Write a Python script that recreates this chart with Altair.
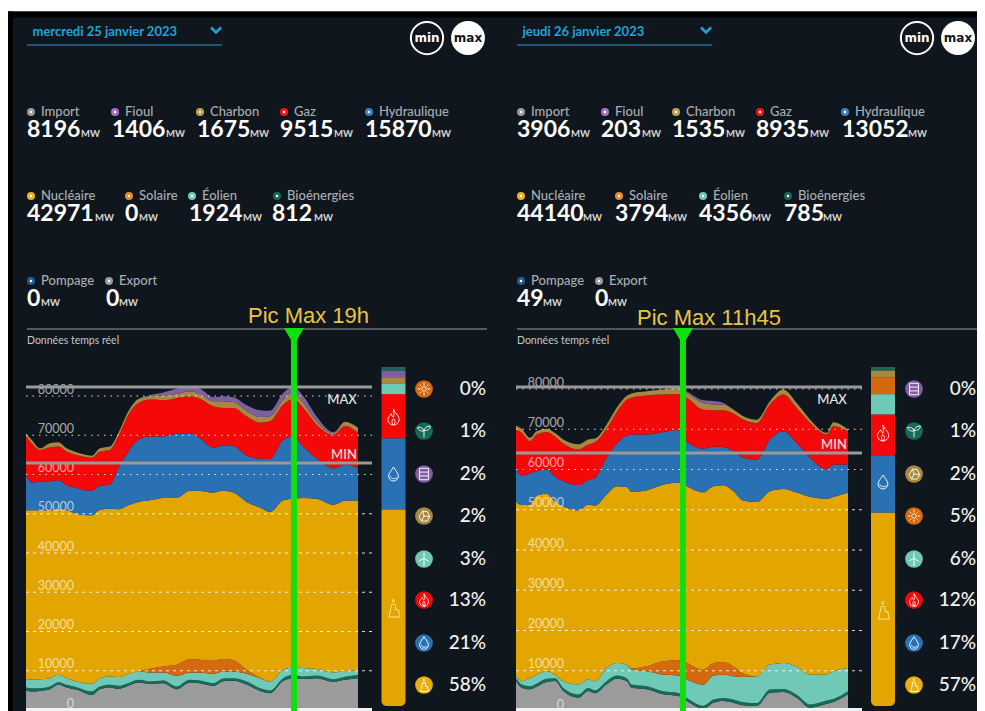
import altair as alt
import pandas as pd

# ---------- data ----------
SERIES = ["Import", "Bioénergies", "Éolien", "Solaire", "Nucléaire", "Hydraulique", "Gaz", "Charbon", "Fioul"]
COLORS = ["#9b9b9b", "#17695a", "#6fc9b6", "#d4690f", "#e3a500", "#2a71b3", "#f40808", "#a88840", "#7f5fa0"]

h_a = [0,.41,1.01,1.73,2.34,2.94,3.66,4.75,5.35,6.07,6.67,7.4,8.12,8.96,9.93,10.89,11.85,12.58,13.54,14.27,14.99,15.95,16.92,17.64,18.6,19.32,20.05,21.01,22.22,23.06,24]
import_a = [4960,4700,4870,5300,6410,5730,5130,3850,5300,5730,5390,6160,7010,6670,6840,5300,7010,6840,6160,7350,7440,6500,4870,4280,7440,8120,7870,8120,7180,7700,8100]
bio_a = [770,850,680,680,680,680,680,850,680,680,770,680,680,600,680,680,680,680,680,680,680,770,680,680,680,810,680,680,680,800,800]
eol_a = [2140,2140,2310,2140,1880,1710,1450,1970,2140,2140,2220,2390,2140,2310,2050,2740,1880,2050,2390,1800,1710,1970,2565,2310,2140,1920,2140,1620,1710,1450,1200]
sol_a = [0,0,0,0,0,0,0,0,0,0,0,0,0,940,1540,2820,3420,3250,3330,3160,2820,1030,100,0,0,0,0,0,0,0,0]
nuc_a = [43000,43180,43000,42750,42320,42750,42750,42920,42920,42750,42750,42920,43180,42920,42920,42490,42840,43000,42840,42840,42750,42750,43350,43180,43180,42970,43350,43430,42750,43350,43260]
hyd_a = [8980,7100,7270,7440,7270,6410,6580,6240,6070,6160,10430,13680,15820,16250,15650,16330,14710,13420,11460,11540,11880,11800,12480,13510,15390,15870,13080,10260,9230,9230,8290]
gaz_a = [9830,10000,8120,8640,8550,8550,8380,8460,8720,8810,8120,9400,9400,9400,9230,9150,9400,10090,10520,9580,9660,10000,9150,9580,8980,9515,9830,8550,8550,9830,8980]
cha_a = [860,860,430,1030,1110,860,680,510,860,860,860,860,1030,860,1200,1030,1280,1200,1280,1710,1540,1450,1450,1280,1280,1675,1280,860,430,1110,1280]
fio_a = [0,0,0,0,0,0,0,0,0,0,0,0,0,260,770,1280,1280,1370,1030,1280,1200,1370,1710,1400,1710,1406,1710,1280,260,0,0]

h_b = [0,.41,1.01,1.49,2.22,2.82,3.42,4.51,5.23,5.71,6.55,7.28,8,8.36,9.45,10.65,11.74,12.34,13.54,14.27,14.99,15.71,16.43,17.4,18.36,19.33,20.29,21.25,22.46,22.94,24]
import_b = [7460,5800,5390,6050,7210,7460,4970,3310,4970,4390,6630,8040,7460,5800,5390,4140,3700,2490,580,2070,2490,2070,1410,1240,4560,4720,3310,830,1820,2240,4140]
bio_b = [760,780,760,740,780,700,760,800,760,740,780,760,700,780,760,740,785,760,720,760,740,780,760,720,760,740,700,760,780,740,760]
eol_b = [660,830,2070,2240,1910,830,1660,2490,2070,2240,3310,3150,3310,3730,3730,4140,4356,4560,5220,5970,5800,5800,6300,6630,6210,6460,7040,7460,6460,6880,5800]
sol_b = [0,0,0,0,0,0,0,0,0,0,0,0,0,250,1240,3310,3794,4140,3730,3150,3150,2490,830,0,0,0,0,0,0,0,0]
nuc_b = [43080,43740,43080,44490,44080,43080,43500,43250,43500,43660,43080,43910,44160,43830,43740,43910,44140,43910,44080,43910,43910,43500,43000,43330,43080,43250,43250,44160,43660,43330,43500]
hyd_b = [8290,7370,7700,6050,6050,6210,6210,6300,6050,6880,9110,10600,12760,14330,13840,13090,13052,11180,10850,9780,9530,9940,10600,10520,12840,14330,12260,9690,7290,8040,7040]
gaz_b = [9780,10600,8040,9110,9280,9940,9360,8860,8860,8860,7210,7790,8950,9110,9690,9280,8935,10770,9690,9110,9110,9360,9530,9110,8700,9110,8700,8700,8700,9530,8290]
cha_b = [830,990,830,830,830,830,990,1240,1240,910,1080,1080,990,1080,1080,1240,1535,1240,1660,1410,1410,990,830,830,830,1240,1240,830,410,990,410]
fio_b = [0,0,0,0,0,0,0,0,0,0,0,0,0,0,0,0,203,410,660,830,410,0,0,0,0,0,0,0,0,0,0]

TICKS = [0, 10000, 20000, 30000, 40000, 50000, 60000, 70000, 80000]

head_names_a = ["Import","Fioul","Charbon","Gaz","Hydraulique","Nucléaire","Solaire","Éolien","Bioénergies","Pompage","Export"]
head_vals_a = ["8196","1406","1675","9515","15870","42971","0","1924","812","0","0"]
head_vals_b = ["3906","203","1535","8935","13052","44140","3794","4356","785","49","0"]
head_col = {"Import":"#9b9b9b","Fioul":"#a872c4","Charbon":"#c6a24e","Gaz":"#f01818","Hydraulique":"#3b80c8",
            "Nucléaire":"#eeb21a","Solaire":"#e68a2e","Éolien":"#6fc9b6","Bioénergies":"#17695a","Pompage":"#1f5f95","Export":"#9b9b9b"}

leg_a = ["Solaire","Bioénergies","Fioul","Charbon","Éolien","Gaz","Hydraulique","Nucléaire"]
pct_a = [0,1,2,2,3,13,21,58]
leg_b = ["Fioul","Bioénergies","Charbon","Solaire","Éolien","Gaz","Hydraulique","Nucléaire"]
pct_b = [0,1,2,5,6,12,17,57]

# ---------- layout helpers (reference pixels → chart pixels) ----------
FONT = "Lato"
X = lambda p: p - 8
Y = lambda p: p - 8
BG = "#10161d"
one = alt.Data(values=[{"a": 1}])
layers = []

def box(x0, x1, y0, y1, color, **kw):
    layers.append(alt.Chart(one).mark_rect(color=color, **kw).encode(
        x=alt.value(X(x0)), x2=alt.value(X(x1)), y=alt.value(Y(y0)), y2=alt.value(Y(y1))))

def hline(x0, x1, y, color, w=1.0, **kw):
    layers.append(alt.Chart(one).mark_rule(color=color, strokeWidth=w, **kw).encode(
        x=alt.value(X(x0)), x2=alt.value(X(x1)), y=alt.value(Y(y))))

def txt(rows, size, color, align="left", baseline="middle", weight="normal", font=FONT, **kw):
    df = pd.DataFrame(rows, columns=["t", "x", "y"])
    df["x"] = df["x"] - 8
    df["y"] = df["y"] - 8
    layers.append(alt.Chart(df).mark_text(fontSize=size, color=color, align=align, baseline=baseline,
                                          fontWeight=weight, font=font, **kw).encode(
        x=alt.X("x:Q", scale=None, axis=None), y=alt.Y("y:Q", scale=None, axis=None), text="t:N"))

def pts(rows, shape, size, filled=True, color="white", stroke=None, w=1.0):
    df = pd.DataFrame(rows, columns=["c", "x", "y"])
    df["x"] = df["x"] - 8
    df["y"] = df["y"] - 8
    kw = dict(shape=shape, size=size, filled=filled, opacity=1, strokeWidth=w)
    if filled:
        kw["fill"] = color
        kw["stroke"] = stroke if stroke else color
        kw["strokeOpacity"] = 1 if stroke else 0
    else:
        kw["stroke"] = color
        kw["fill"] = "transparent"
    layers.append(alt.Chart(df).mark_point(**kw).encode(
        x=alt.X("x:Q", scale=None, axis=None), y=alt.Y("y:Q", scale=None, axis=None)))

ICON = {
 "Gaz": "M0 -1 C0.2 -0.4 0.8 -0.1 0.7 0.4 C0.6 0.8 0.3 1 0 1 C-0.4 1 -0.7 0.7 -0.7 0.3 C-0.7 0 -0.4 -0.2 -0.3 -0.4 C-0.2 -0.1 -0.1 0 0 0 C0.1 -0.3 0 -0.7 0 -1 Z M0 1 C-0.3 .7 -0.2 .4 0 .2 C.2 .4 .3 .7 0 1",
 "Hydraulique": "M0 -1 C0.3 -0.5 0.7 -0.1 0.7 0.3 C0.7 0.7 0.35 1 0 1 C-0.35 1 -0.7 0.7 -0.7 0.3 C-0.7 -0.1 -0.3 -0.5 0 -1 Z M-.5 .3 C-.3 .7 .2 .8 .5 .5",
 "Nucléaire": "M-0.2 -0.4 L0.2 -0.4 L0.25 0.2 L0.55 0.2 L0.7 1 L-0.5 1 L-0.35 0.3 Z M0 -0.6 C0.15 -0.8 0 -0.9 0 -1 C-0.15 -0.85 -0.15 -0.7 0 -0.6 Z",
 "Solaire": "M.35 0 A.35 .35 0 1 1 -.35 0 A.35 .35 0 1 1 .35 0 Z M0 -1 L0 -.55 M0 1 L0 .55 M-1 0 L-.55 0 M1 0 L.55 0 M-.7 -.7 L-.4 -.4 M.7 .7 L.4 .4 M-.7 .7 L-.4 .4 M.7 -.7 L.4 -.4",
 "Bioénergies": "M0 1 L0 0 C-.1 -.5 -.6 -.6 -1 -.6 C-1 -.2 -.5 .1 0 0 M0 -.1 C.1 -.5 .5 -.8 1 -.8 C1 -.3 .5 0 0 -.1",
 "Fioul": "M-.7 -.9 L.7 -.9 L.7 .9 L-.7 .9 Z M-.7 -.3 L.7 -.3 M-.7 .3 L.7 .3",
 "Charbon": "M-.8 .1 L-.2 -.8 L.5 -.7 L.9 .1 L.5 .8 L-.4 .8 Z M-.2 -.8 L0 0 L.9 .1 M0 0 L-.4 .8",
 "Éolien": "M0 1 L0 -1 M0 -.1 L.8 .4 M0 -.1 L-.8 .3 M-.1 1 L.1 1",
}
TRI = "M-1 -.85 L1 -.85 L0 .85 Z"
CHEV = "M-1 -.5 L0 .5 L1 -.5"

LEG_Y = [389, 431, 474, 516, 559, 600, 643, 685]

def panel(dx, ax0, y0px, y80px, minpx, maxpx, hours, arrays, peak_h, date, chev_x, line_end, row_layout,
          legend, pct, bar_x0, dot_x, pct_x, peak_txt, peak_x, peak_base, min_y, bar_ic, xline_end, cx):
    ax1 = ax0 + 332
    # header chrome
    txt([(date, ax0 + 6.5, 31.5)], 13, "#1fa4d6", weight="bold")
    pts([("c", chev_x, 30)], CHEV, 100, filled=False, color="#1fa4d6", w=2.5)
    hline(ax0 + 1, line_end, 45, "#1f9ccf", 1.2)
    pts([("m", cx, 38)], "circle", 1040, filled=False, color="white", w=2)
    pts([("m", cx + 41, 38)], "circle", 1150, color="white")
    txt([("min", cx, 38)], 12, "white", align="center", weight="bold", font="DejaVu Sans")
    txt([("max", cx + 41, 38)], 12, "#10161d", align="center", weight="bold", font="DejaVu Sans")

    # stat rows
    vals = head_vals_a if dx == 0 else head_vals_b
    for i, name in enumerate(head_names_a):
        nx, vx, mx, ny, vy = row_layout[i]
        pts([("d", nx - 10, ny)], "circle", 64, color=head_col[name])
        pts([("d", nx - 10, ny)], "circle", 6, color="#ffffff")
        txt([(name, nx, ny)], 13, "#a9adb1", weight=500)
        txt([(vals[i], vx, vy)], 23, "white", baseline="alphabetic", weight="bold")
        txt([("MW", mx, vy)], 9.5, "#d8d8d8", baseline="alphabetic", weight="bold")

    hline(ax0 + 1, xline_end, 329, "#6b6f73", 1.4)
    txt([("Données temps réel", ax0 + 1, 340.5)], 10.5, "#c4c6c8")

    # stacked areas
    rows = []
    for s, (name, arr) in enumerate(zip(SERIES, arrays)):
        for h, v in zip(hours, arr):
            rows.append({"h": h, "mw": v, "s": name, "o": s})
    df = pd.DataFrame(rows)
    xs = alt.Scale(domain=[0, 24], range=[X(ax0), X(ax1)])
    ys = alt.Scale(domain=[0, 80000], range=[Y(y0px), Y(y80px)])
    layers.append(alt.Chart(df).mark_area(interpolate="monotone").encode(
        x=alt.X("h:Q", scale=xs, axis=None),
        y=alt.Y("mw:Q", stack="zero", scale=ys, axis=None),
        color=alt.Color("s:N", scale=alt.Scale(domain=SERIES, range=COLORS), legend=None),
        order=alt.Order("o:Q", sort="ascending")))

    # grid and tick labels go through the same y scale
    tdf = pd.DataFrame({"v": TICKS, "lab": [str(t) for t in TICKS]})
    lo = tdf[tdf.v.between(10000, 50000)]
    hi = tdf[tdf.v >= 60000]
    for part, dash in ((lo, [3, 4]), (hi, [1.5, 5])):
        layers.append(alt.Chart(part).mark_rule(color="white", strokeWidth=1, strokeDash=dash, opacity=.85).encode(
            y=alt.Y("v:Q", scale=ys, axis=None), x=alt.value(X(ax0)), x2=alt.value(X(ax0 + 346))))
    layers.append(alt.Chart(tdf).mark_text(fontSize=12.5, font=FONT, color="#ffffff", opacity=.62, align="right",
                                           baseline="middle", dy=-6.5).encode(
        y=alt.Y("v:Q", scale=ys, axis=None), x=alt.value(X(ax0 + 48)), text="lab:N"))

    # max / min rules
    hline(ax0, ax0 + 346, maxpx, "#9a9a9a", 3)
    hline(ax0, ax0 + 346, minpx, "#9a9a9a", 3)
    txt([("MAX", ax0 + 316, 400)], 13, "#e6e6e6", align="center", weight=500)
    txt([("MIN", ax0 + 318, min_y)], 13, "#e6e6e6", align="center", weight=500)

    # baseline
    box(ax0, ax0 + 346, 708, 711, "#f2f2f2")

    # peak marker through the x scale
    pk = pd.DataFrame({"h": [peak_h]})
    layers.append(alt.Chart(pk).mark_rule(color="#10e010", strokeWidth=6).encode(
        x=alt.X("h:Q", scale=xs, axis=None), y=alt.value(Y(340)), y2=alt.value(Y(711))))
    px = X(ax0) + (X(ax1) - X(ax0)) * peak_h / 24 + 8
    pts([("t", px, 336.5)], TRI, 400, color="#10e010")
    txt([(peak_txt, peak_x, peak_base)], 22, "#e9c444", baseline="alphabetic", font="Liberation Sans")

    # share bar
    order = list(reversed(range(len(pct))))
    by = alt.Scale(domain=[0, 100], range=[Y(706), Y(367)])
    acc = 0
    bar_rows = []
    for i in order:
        bar_rows.append({"a": acc, "b": acc + pct[i], "s": legend[i]})
        acc += pct[i]
    bar_df = pd.DataFrame(bar_rows)
    colmap = dict(zip(SERIES, COLORS))
    bar_df["c"] = bar_df["s"].map(colmap)
    base = alt.Chart(bar_df[bar_df.s != "Nucléaire"]).mark_rect().encode(
        x=alt.value(X(bar_x0)), x2=alt.value(X(bar_x0 + 24)),
        y=alt.Y("a:Q", scale=by, axis=None), y2="b:Q",
        color=alt.Color("c:N", scale=None, legend=None))
    nuc = alt.Chart(bar_df[bar_df.s == "Nucléaire"]).mark_rect(cornerRadiusBottomLeft=5, cornerRadiusBottomRight=5).encode(
        x=alt.value(X(bar_x0)), x2=alt.value(X(bar_x0 + 24)),
        y=alt.Y("a:Q", scale=by, axis=None), y2="b:Q",
        color=alt.Color("c:N", scale=None, legend=None))
    layers.extend([base, nuc])
    for name, iy, sz in bar_ic:
        pts([("i", bar_x0 + 12, iy)], ICON[name], sz, filled=False, color="#ffffff" if name != "Nucléaire" else "#ffe9a8", w=.9)

    # legend circles
    for name, p, yy in zip(legend, pct, LEG_Y):
        pts([("c", dot_x, yy)], "circle", 314, color=colmap[name] if name != "Nucléaire" else "#e8ad10")
        pts([("i", dot_x, yy)], ICON[name], 160, filled=False, color="#ffffff", w=.9)
        txt([(f"{p}%", pct_x, yy)], 19, "#f4f4f4", align="right", weight=500)


# background elements
box(8, 977, 8, 11.5, "#ffffff")
box(8, 977, 11.5, 17.5, "#000000")
box(8, 13, 11.5, 711, "#000000")

rows_a = [(41,27,81,112,137),(125,112,166,112,137),(210,197,250,112,137),(294,280,334,112,137),(379,365,432,112,137),
          (41,27,95,196,221),(139,125,139,196,221),(202,189,243,196,221),(287,272,314,196,221),
          (41,27,41,281,306),(119,106,119,281,306)]
rows_b = [(531,517,571,112,137),(615,601,642,112,137),(686,672,726,112,137),(770,756,810,112,137),(855,842,908,112,137),
          (531,517,583,196,221),(629,615,668,196,221),(713,699,752,196,221),(798,784,823,196,221),
          (531,517,543,281,306),(609,595,608,281,306)]

panel(0, 26, 710, 396, 463, 387, h_a,
      [import_a, bio_a, eol_a, sol_a, nuc_a, hyd_a, gaz_a, cha_a, fio_a], 19.37,
      "mercredi 25 janvier 2023", 216, 222, rows_a, leg_a, pct_a, 381.5, 424, 486,
      "Pic Max 19h", 248, 323, 455,
      [("Gaz", 417, 256), ("Hydraulique", 474, 196), ("Nucléaire", 608, 324)], 487, 427)

panel(1, 516, 711, 389, 453, 387, h_b,
      [import_b, bio_b, eol_b, sol_b, nuc_b, hyd_b, gaz_b, cha_b, fio_b], 12.07,
      "jeudi 26 janvier 2023", 706, 712, rows_b, leg_b, pct_b, 871, 914, 976,
      "Pic Max 11h45", 637, 325, 445,
      [("Gaz", 433, 256), ("Hydraulique", 482, 196), ("Nucléaire", 610, 324)], 976.9, 917)

chart = alt.layer(*layers).resolve_scale(x="independent", y="independent", color="independent").properties(
    width=969, height=703, background=BG, padding=0,
    autosize=alt.AutoSizeParams(type="none", contains="padding"),
).configure_view(stroke=None)

chart.save("out.html", embed_options={"renderer": "svg", "actions": False})
